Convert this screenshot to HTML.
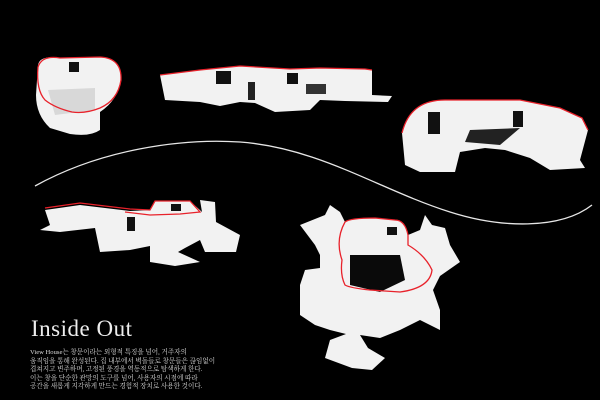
<!DOCTYPE html>
<html><head><meta charset="utf-8"><style>
html,body{margin:0;padding:0;background:#000;}
body{width:600px;height:400px;overflow:hidden;position:relative;}
svg{position:absolute;left:0;top:0;}
.t{position:absolute;left:31px;top:316px;color:#eee;font-family:"Liberation Serif",serif;font-size:23px;letter-spacing:0.5px;}
.p{position:absolute;left:30px;top:349px;color:#ddd;font-family:"Liberation Serif","Noto Serif CJK SC",serif;font-size:6.6px;line-height:8.6px;white-space:nowrap;}
</style></head><body>
<svg width="600" height="400" viewBox="0 0 600 400">
<g fill="#f2f2f2" stroke="none">
<!-- model 1 -->
<path d="M38,65 Q40,55 60,58 L100,57 Q122,58 121,80 Q118,100 100,112 L100,130 Q90,137 70,134 L50,128 Q36,115 36,95 Z"/>
<rect x="69" y="62" width="10" height="10" fill="#111"/>
<path d="M48,90 L95,88 L95,110 L55,115Z" fill="#d8d8d8"/>
<!-- model 2 -->
<path d="M160,75 L200,70 L240,66 L290,69 L320,68 L365,69 L372,70 L372,95 L392,96 L388,102 L345,101 L320,100 L310,110 L275,112 L255,103 L240,102 L220,106 L200,102 L165,100 Z"/>
<rect x="216" y="71" width="15" height="13" fill="#111"/>
<rect x="287" y="73" width="11" height="11" fill="#111"/>
<rect x="248" y="82" width="7" height="18" fill="#222"/>
<rect x="306" y="84" width="20" height="10" fill="#333"/>
<!-- model 3 -->
<path d="M402,133 Q410,100 445,100 L520,100 L560,108 L582,118 L588,130 L580,160 L585,168 L550,170 L530,158 L505,150 L485,148 L460,152 L455,172 L420,172 L405,165 Z"/>
<rect x="428" y="112" width="12" height="22" fill="#111"/>
<rect x="513" y="111" width="10" height="16" fill="#111"/>
<path d="M470,130 L520,128 L500,145 L465,142Z" fill="#222"/>
<!-- model 4 -->
<path d="M45,210 L80,205 L130,211 L150,210 L155,201 L190,201 L202,212 L200,200 L215,202 L216,222 L240,235 L236,252 L205,252 L200,240 L185,248 L178,252 L200,262 L175,266 L150,262 L150,246 L130,250 L100,252 L95,228 L60,232 L40,230 L50,225 Z"/>
<rect x="171" y="204" width="10" height="7" fill="#111"/>
<rect x="127" y="217" width="8" height="14" fill="#111"/>
<!-- model 5 -->
<path d="M300,225 L325,215 L330,205 L340,212 L345,222 Q350,218 375,218 L395,220 Q405,220 408,235 L420,230 L425,215 L432,225 L445,228 L450,245 L460,262 L440,276 L433,290 L440,310 L440,330 L420,320 L400,330 L380,338 L360,335 L368,348 L385,358 L372,370 L352,368 L325,358 L330,340 L346,334 L330,330 L315,325 L300,315 L300,285 L305,270 L320,268 L320,255 L315,245 Z"/>
<rect x="387" y="227" width="10" height="8" fill="#111"/>
<path d="M350,255 L400,255 L405,280 L380,292 L350,285Z" fill="#0a0a0a"/>
</g>
<g fill="none" stroke="#e8222b" stroke-width="1.3">
<path d="M38,67 Q42,55 60,58 L100,57 Q122,58 121,80 Q118,100 100,108 Q85,114 72,112 Q55,108 45,100 Q36,90 38,67"/>
<path d="M160,75 L200,70 L240,66 L290,69 L320,68 L365,69 L372,70"/>
<path d="M402,133 Q410,100 445,100 L520,100 L560,108 L582,118 L588,130"/>
<path d="M45,208 L80,203 L130,209 L150,210 L155,201 L190,201 L200,212 L180,214 L150,215 L125,212"/>
<path d="M345,222 Q350,218 375,218 L395,220 Q405,220 408,235 L408,245 Q425,255 432,270 Q430,288 400,292 L370,290 Q350,288 345,285 Q340,275 342,260 Q335,240 345,222"/>
</g>
<path d="M35,186 C100,150 180,138 240,142 C320,148 380,190 450,212 C500,228 560,230 592,205" fill="none" stroke="#e6e6e6" stroke-width="1.3"/>
</svg>
<div class="t">Inside Out</div>
<div class="p">View House는 창문이라는 외형적 특징을 넘어, 거주자의<br>움직임을 통해 완성된다. 집 내부에서 벽돌들로 창문들은 끊임없이<br>겹쳐지고 변주하며, 고정된 풍경을 역동적으로 탐색하게 한다.<br>이는 창을 단순한 관망의 도구를 넘어, 사용자의 시점에 따라<br>공간을 새롭게 지각하게 만드는 경험적 장치로 사용한 것이다.</div>
</body></html>
